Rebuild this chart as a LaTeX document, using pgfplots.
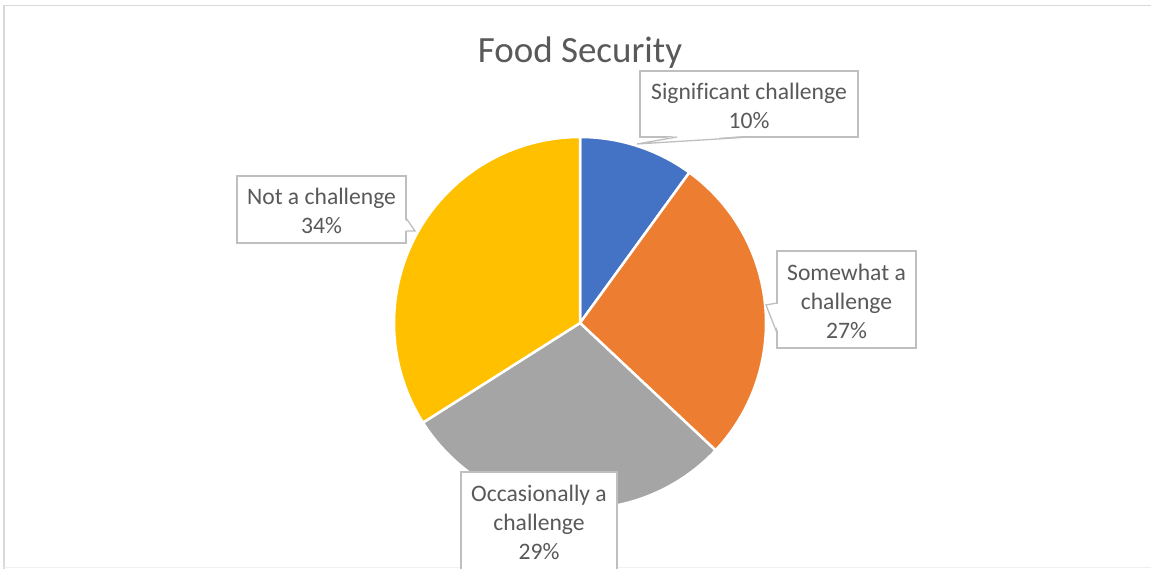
\documentclass[border=0pt]{standalone}
\usepackage{pgfplots}
\pgfplotsset{compat=1.18}
\usepackage{pgfplotstable}
\usepackage{fontspec}
\setmainfont{Carlito}[Ligatures=CommonOff]
\definecolor{cblue}{HTML}{4472C4}
\definecolor{corange}{HTML}{ED7D31}
\definecolor{cgray}{HTML}{A5A5A5}
\definecolor{cyellow}{HTML}{FFC000}
\definecolor{txt}{HTML}{595959}
\definecolor{boxgray}{HTML}{BFBFBF}
\definecolor{framegray}{HTML}{D9D9D9}
\tikzset{lbox/.style={draw=boxgray, fill=white, line width=1.3bp, text=txt, align=center,
    inner sep=0pt, font=\fontsize{23.6bp}{29bp}\selectfont}}

\pgfplotstableread{
label value
Significant 10
Somewhat 27
Occasionally 29
Not 34
}\piedata

\begin{document}
\begin{tikzpicture}
\pgfplotstablegetelem{0}{value}\of\piedata \let\vA\pgfplotsretval
\pgfplotstablegetelem{1}{value}\of\piedata \let\vB\pgfplotsretval
\pgfplotstablegetelem{2}{value}\of\piedata \let\vC\pgfplotsretval
\pgfplotstablegetelem{3}{value}\of\piedata \let\vD\pgfplotsretval
\pgfmathsetmacro\aA{90-3.6*\vA}
\pgfmathsetmacro\aB{\aA-3.6*\vB}
\pgfmathsetmacro\aC{\aB-3.6*\vC}
\pgfmathsetmacro\aD{\aC-3.6*\vD}
\useasboundingbox (0,0) rectangle (1151bp,569bp);
\clip (0,0) rectangle (1151bp,569bp);
\begin{axis}[at={(0,0)}, anchor=south west, scale only axis,
  width=1151bp, height=569bp, xmin=0, xmax=1151, ymin=0, ymax=569,
  hide axis, clip=false]
% chart frame
\draw[framegray, line width=1.6bp] (axis cs:3.8,-5) -- (axis cs:3.8,563.5) -- (axis cs:1160,563.5);
\draw[black!6, line width=1bp] (axis cs:3.8,1) -- (axis cs:1160,1);
% pie slices
\addplot[fill=cblue, draw=white, line width=2.5bp, domain=\aA:90, samples=60, variable=\t]
  ({580+186*cos(\t)},{246+186*sin(\t)}) -- (axis cs:580,246) -- cycle;
\addplot[fill=corange, draw=white, line width=2.5bp, domain=\aB:\aA, samples=90, variable=\t]
  ({580+186*cos(\t)},{246+186*sin(\t)}) -- (axis cs:580,246) -- cycle;
\addplot[fill=cgray, draw=white, line width=2.5bp, domain=\aC:\aB, samples=90, variable=\t]
  ({580+186*cos(\t)},{246+186*sin(\t)}) -- (axis cs:580,246) -- cycle;
\addplot[fill=cyellow, draw=white, line width=2.5bp, domain=\aD:\aC, samples=100, variable=\t]
  ({580+186*cos(\t)},{246+186*sin(\t)}) -- (axis cs:580,246) -- cycle;
% title
\node[anchor=base, text=txt, font=\fontsize{37bp}{44bp}\selectfont] at (axis cs:580,506) {Food Security};
% label boxes
\node[lbox, minimum width=218bp, minimum height=66bp] (b1) at (axis cs:749,465) {};
\node[lbox, minimum width=169bp, minimum height=67bp] (b2) at (axis cs:321.5,359.5) {};
\node[lbox, minimum width=139bp, minimum height=97bp] (b3) at (axis cs:846.5,269.5) {};
\node[lbox, minimum width=156bp, minimum height=98bp] (b4) at (axis cs:539,48) {};
\node[lbox, draw=none, fill=none] at (axis cs:749,463.5) {Significant challenge\\10\%};
\node[lbox, draw=none, fill=none] at (axis cs:321.5,358) {Not a challenge\\34\%};
\node[lbox, draw=none, fill=none] at (axis cs:846.5,268) {Somewhat a\\challenge\\27\%};
\node[lbox, draw=none, fill=none] at (axis cs:539,46.5) {Occasionally a\\challenge\\29\%};
% callout wedges
\fill[white] (axis cs:678,433.5) -- (axis cs:637,425) -- (axis cs:749,433.5) -- cycle;
\draw[boxgray, line width=1.3bp] (axis cs:677,432) -- (axis cs:637,425) -- (axis cs:750,432);
\fill[white] (axis cs:404.5,350) -- (axis cs:415,338) -- (axis cs:404.5,338) -- cycle;
\draw[boxgray, line width=1.3bp] (axis cs:406,351) -- (axis cs:415,338) -- (axis cs:406,338);
\fill[white] (axis cs:778.5,265) -- (axis cs:766,264) -- (axis cs:778.5,237) -- cycle;
\draw[boxgray, line width=1.3bp] (axis cs:777,266) -- (axis cs:766,264) -- (axis cs:777,236);
\end{axis}
\end{tikzpicture}
\end{document}
